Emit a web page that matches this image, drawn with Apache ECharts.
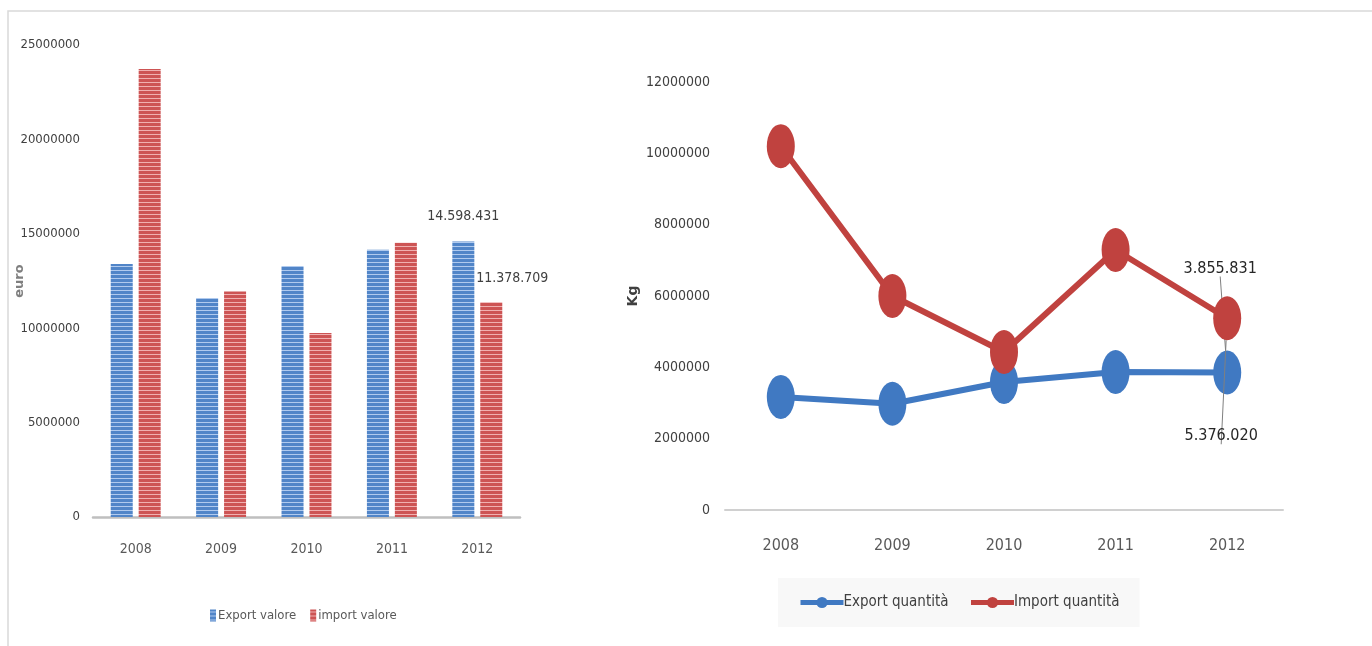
<!DOCTYPE html>
<html>
<head>
<meta charset="utf-8">
<script src="https://cdn.jsdelivr.net/npm/echarts@6/dist/echarts.min.js"></script>
<style>
html,body{margin:0;padding:0;background:#fff;}
#c{width:1372px;height:646px;}
</style>
</head>
<body>
<div id="c"></div>
<script>
// ---- data ----
const years = ['2008', '2009', '2010', '2011', '2012'];
const exportValore = [13400000, 11600000, 13300000, 14150000, 14598431];
const importValore = [23730000, 11950000, 9750000, 14520000, 11378709];
const exportQuantita = [3170000, 2980000, 3590000, 3870000, 3855831];
const importQuantita = [10200000, 6000000, 4430000, 7290000, 5376020];
const leftTicks = { min: 0, max: 25000000, interval: 5000000 };
const rightTicks = { min: 0, max: 12000000, interval: 2000000 };

const FONT = '"Liberation Sans Narrow", "DejaVu Sans Condensed", Roboto, sans-serif';

function fmtIt(v) {
  return String(Math.round(v)).replace(/\B(?=(\d{3})+(?!\d))/g, '.');
}
function plain(v) { return String(v); }

function stripes(base, light) {
  const c = document.createElement('canvas');
  c.width = 4; c.height = 4;
  const g = c.getContext('2d');
  g.fillStyle = base; g.fillRect(0, 0, 4, 4);
  g.fillStyle = light; g.fillRect(0, 2, 4, 1);
  return { image: c, repeat: 'repeat' };
}

const blueBar = stripes('#5185c8', '#b0caee');
const redBar = stripes('#cd5454', '#f0b0b0');

const chart = echarts.init(document.getElementById('c'), null, { renderer: 'canvas' });

const last = years.length - 1;

chart.setOption({
  backgroundColor: '#ffffff',
  animation: false,
  textStyle: { fontFamily: FONT },
  graphic: [{
    type: 'polyline',
    shape: { points: [[8, 646], [8, 11], [1372, 11]] },
    style: { stroke: '#d9d9d9', lineWidth: 1.5, fill: null },
    silent: true
  }],
  grid: [
    { left: 93, right: 852, top: 45, bottom: 129, outerBoundsMode: 'none', containLabel: false },
    { left: 725, right: 89, top: 82, bottom: 136, outerBoundsMode: 'none', containLabel: false }
  ],
  legend: [
    {
      data: ['Export valore', 'import valore'],
      left: 205, top: 604,
      itemWidth: 6, itemHeight: 12, itemGap: 14,
      icon: 'rect',
      textStyle: { fontFamily: FONT, fontSize: 13, color: '#595959', padding: [0, 0, 0, -3] }
    },
    {
      data: ['Export quantità', 'Import quantità'],
      left: 778, top: 578,
      itemWidth: 43, itemHeight: 14, itemGap: 20,
      backgroundColor: '#f8f8f8',
      padding: [17, 20, 17, 20],
      lineStyle: { width: 5 },
      textStyle: { fontFamily: FONT, fontSize: 15, color: '#404040', padding: [0, 0, 0, -5] }
    }
  ],
  xAxis: [
    {
      type: 'category', gridIndex: 0, data: years,
      axisLine: { lineStyle: { color: '#bfbfbf', width: 2.5 } },
      axisTick: { show: false },
      axisLabel: { fontFamily: FONT, fontSize: 14, color: '#595959', margin: 25 }
    },
    {
      type: 'category', gridIndex: 1, data: years,
      axisLine: { lineStyle: { color: '#d0d0d0', width: 2 } },
      axisTick: { show: false },
      axisLabel: { fontFamily: FONT, fontSize: 16, color: '#595959', margin: 28 }
    }
  ],
  yAxis: [
    {
      type: 'value', gridIndex: 0,
      min: leftTicks.min, max: leftTicks.max, interval: leftTicks.interval,
      name: 'euro', nameLocation: 'middle', nameGap: 67, nameRotate: 90, nameMoveOverlap: false,
      nameTextStyle: { fontFamily: '"DejaVu Sans", sans-serif', fontWeight: 'bold', fontSize: 13, color: '#7f7f7f' },
      axisLine: { show: false }, axisTick: { show: false },
      splitLine: { show: false },
      axisLabel: { fontFamily: FONT, fontSize: 13, color: '#404040', margin: 13, formatter: plain }
    },
    {
      type: 'value', gridIndex: 1,
      min: rightTicks.min, max: rightTicks.max, interval: rightTicks.interval,
      name: 'Kg', nameLocation: 'middle', nameGap: 85, nameRotate: 90, nameMoveOverlap: false,
      nameTextStyle: { fontFamily: '"DejaVu Sans", sans-serif', fontWeight: 'bold', fontSize: 14, color: '#404040' },
      axisLine: { show: false }, axisTick: { show: false },
      splitLine: { show: false },
      axisLabel: { fontFamily: FONT, fontSize: 14, color: '#404040', margin: 15, formatter: plain }
    }
  ],
  series: [
    {
      name: 'Export valore', type: 'bar', xAxisIndex: 0, yAxisIndex: 0,
      barWidth: 22, barGap: '27%',
      itemStyle: { color: blueBar },
      data: exportValore.map((v, i) => i === last ? {
        value: v,
        label: { show: true, position: 'top', distance: 18, formatter: p => fmtIt(p.value),
                 fontFamily: FONT, fontSize: 14, color: '#404040' }
      } : v)
    },
    {
      name: 'import valore', type: 'bar', xAxisIndex: 0, yAxisIndex: 0,
      barWidth: 22,
      itemStyle: { color: redBar },
      data: importValore.map((v, i) => i === last ? {
        value: v,
        label: { show: true, position: 'top', distance: 17, offset: [21, 0], formatter: p => fmtIt(p.value),
                 fontFamily: FONT, fontSize: 14, color: '#404040' }
      } : v)
    },
    {
      name: 'Export quantità', type: 'line', xAxisIndex: 1, yAxisIndex: 1,
      symbol: 'circle', symbolSize: [28, 44],
      lineStyle: { color: '#4079c2', width: 6 },
      itemStyle: { color: '#4079c2' },
      z: 2,
      data: exportQuantita.map((v, i) => i === last ? {
        value: v,
        label: { show: true, position: 'inside', offset: [-7, -104], formatter: p => fmtIt(p.value),
                 fontFamily: FONT, fontSize: 16, color: '#262626' },
        labelLine: { show: true, lineStyle: { color: '#808080', width: 1 } }
      } : v)
    },
    {
      name: 'Import quantità', type: 'line', xAxisIndex: 1, yAxisIndex: 1,
      symbol: 'circle', symbolSize: [28, 44],
      lineStyle: { color: '#c0423f', width: 6 },
      itemStyle: { color: '#c0423f' },
      z: 3,
      data: importQuantita.map((v, i) => i === last ? {
        value: v,
        label: { show: true, position: 'inside', offset: [-6, 118], formatter: p => fmtIt(p.value),
                 fontFamily: FONT, fontSize: 16, color: '#262626' },
        labelLine: { show: true, lineStyle: { color: '#808080', width: 1 } }
      } : v)
    }
  ]
});
</script>
</body>
</html>
